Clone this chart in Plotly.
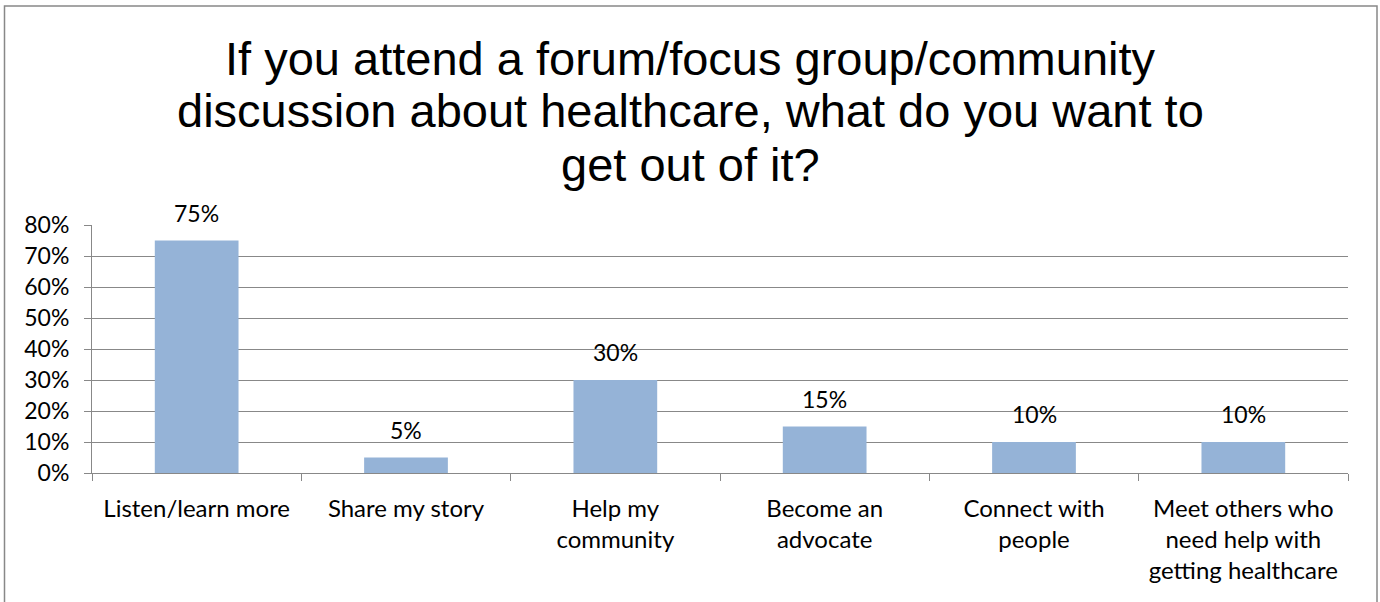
import plotly.graph_objects as go

categories = ["Listen/learn more", "Share my story", "Help my<br>community", "Become an<br>advocate",
              "Connect with<br>people", "Meet others who<br>need help with<br>getting healthcare"]
values = [0.75, 0.05, 0.30, 0.15, 0.10, 0.10]
labels = ["75%", "5%", "30%", "15%", "10%", "10%"]
title_lines = ["If you attend a forum/focus group/community",
               "discussion about healthcare, what do you want to",
               "get out of it?"]

W, H = 1380, 602
L, R, T, B = 92, 32, 225, 129
pw, ph = W - L - R, H - T - B
FONT = "Lato, Open Sans, sans-serif"

fig = go.Figure(go.Bar(
    x=categories, y=values,
    marker=dict(color="#95B3D7", line=dict(width=0)), width=0.4,
))

# data labels
for c, v, t in zip(categories, values, labels):
    fig.add_annotation(x=c, y=v, text=t, showarrow=False, yanchor="bottom", yshift=12,
                       font=dict(family=FONT, size=23, color="black"))

fig.update_layout(
    width=W, height=H, margin=dict(l=L, r=R, t=T, b=B),
    paper_bgcolor="white", plot_bgcolor="white", showlegend=False,
    font=dict(family=FONT, size=24, color="black"),
)
fig.update_yaxes(range=[0, 0.8], dtick=0.1, tickformat=".0%", showgrid=True, gridcolor="#888888",
                 gridwidth=1, showline=True, linecolor="#888888", ticks="outside", ticklen=7,
                 tickcolor="#888888", zeroline=False, tickfont=dict(size=23), ticklabelstandoff=10)
fig.update_xaxes(showline=True, linecolor="#888888", ticks="outside", ticklen=7, tickcolor="#888888",
                 tickson="boundaries", showgrid=False, tickfont=dict(size=24), ticklabelstandoff=14)

# title lines, one annotation each for tight line spacing
centers_px = [58, 111, 164]
for line, cy in zip(title_lines, centers_px):
    fig.add_annotation(text=line, xref="paper", yref="paper", x=(690 - L) / pw,
                       y=(H - B - cy) / ph, xanchor="center", yanchor="middle", showarrow=False,
                       font=dict(family="Liberation Sans, Arial, sans-serif", size=47, color="black"))

# outer chart border
fig.add_shape(type="rect", xref="paper", yref="paper",
              x0=(4.5 - L) / pw, x1=(1377 - L) / pw,
              y0=(H - B - 610) / ph, y1=(H - B - 6) / ph,
              line=dict(color="#888888", width=1.5), layer="below")

fig.write_html("out.html")
